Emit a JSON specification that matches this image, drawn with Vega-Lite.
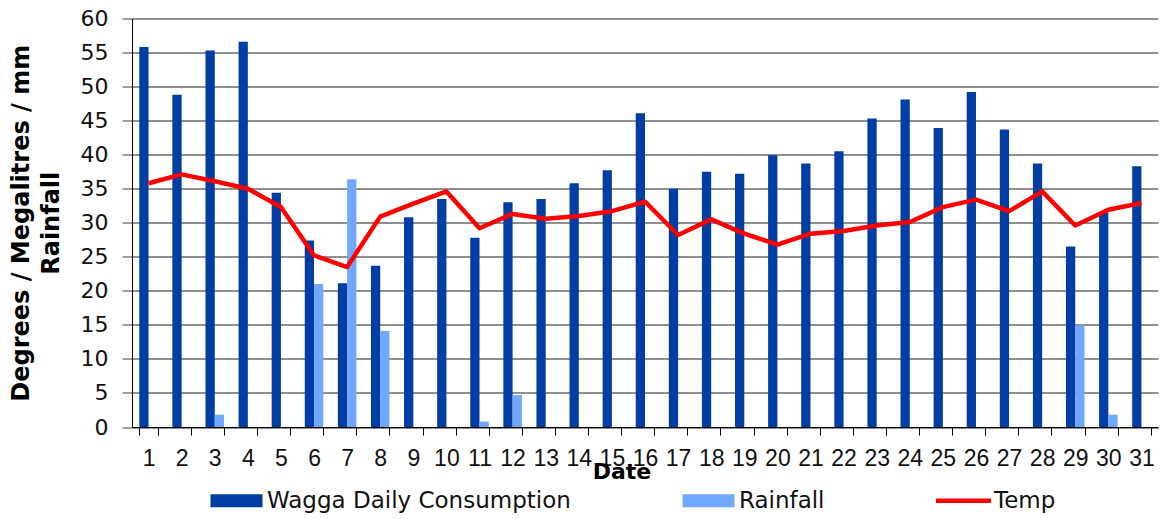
{
  "$schema": "https://vega.github.io/schema/vega-lite/v6.json",
  "autosize": {"type": "none"},
  "padding": {"left": 132, "top": 18.5, "right": 4, "bottom": 92},
  "width": 1026,
  "height": 408.5,
  "background": "white",
  "config": {"view": {"stroke": null}},
  "datasets": {
    "rows": [
      {"date": 1, "series": "Wagga Daily Consumption", "value": 55.8},
      {"date": 2, "series": "Wagga Daily Consumption", "value": 48.8},
      {"date": 3, "series": "Wagga Daily Consumption", "value": 55.3},
      {"date": 4, "series": "Wagga Daily Consumption", "value": 56.6},
      {"date": 5, "series": "Wagga Daily Consumption", "value": 34.4},
      {"date": 6, "series": "Wagga Daily Consumption", "value": 27.4},
      {"date": 7, "series": "Wagga Daily Consumption", "value": 21.1},
      {"date": 8, "series": "Wagga Daily Consumption", "value": 23.7},
      {"date": 9, "series": "Wagga Daily Consumption", "value": 30.8},
      {"date": 10, "series": "Wagga Daily Consumption", "value": 33.5},
      {"date": 11, "series": "Wagga Daily Consumption", "value": 27.8},
      {"date": 12, "series": "Wagga Daily Consumption", "value": 33.0},
      {"date": 13, "series": "Wagga Daily Consumption", "value": 33.5},
      {"date": 14, "series": "Wagga Daily Consumption", "value": 35.8},
      {"date": 15, "series": "Wagga Daily Consumption", "value": 37.7},
      {"date": 16, "series": "Wagga Daily Consumption", "value": 46.1},
      {"date": 17, "series": "Wagga Daily Consumption", "value": 35.0},
      {"date": 18, "series": "Wagga Daily Consumption", "value": 37.5},
      {"date": 19, "series": "Wagga Daily Consumption", "value": 37.2},
      {"date": 20, "series": "Wagga Daily Consumption", "value": 39.9},
      {"date": 21, "series": "Wagga Daily Consumption", "value": 38.7},
      {"date": 22, "series": "Wagga Daily Consumption", "value": 40.5},
      {"date": 23, "series": "Wagga Daily Consumption", "value": 45.3},
      {"date": 24, "series": "Wagga Daily Consumption", "value": 48.1},
      {"date": 25, "series": "Wagga Daily Consumption", "value": 43.9},
      {"date": 26, "series": "Wagga Daily Consumption", "value": 49.2},
      {"date": 27, "series": "Wagga Daily Consumption", "value": 43.7},
      {"date": 28, "series": "Wagga Daily Consumption", "value": 38.7},
      {"date": 29, "series": "Wagga Daily Consumption", "value": 26.5},
      {"date": 30, "series": "Wagga Daily Consumption", "value": 31.5},
      {"date": 31, "series": "Wagga Daily Consumption", "value": 38.3},
      {"date": 3, "series": "Rainfall", "value": 1.8},
      {"date": 6, "series": "Rainfall", "value": 21.0},
      {"date": 7, "series": "Rainfall", "value": 36.4},
      {"date": 8, "series": "Rainfall", "value": 14.1},
      {"date": 11, "series": "Rainfall", "value": 0.8},
      {"date": 12, "series": "Rainfall", "value": 4.7},
      {"date": 29, "series": "Rainfall", "value": 14.9},
      {"date": 30, "series": "Rainfall", "value": 1.8},
      {"date": 1, "series": "Temp", "value": 35.8},
      {"date": 2, "series": "Temp", "value": 37.1},
      {"date": 3, "series": "Temp", "value": 36.1},
      {"date": 4, "series": "Temp", "value": 35.0},
      {"date": 5, "series": "Temp", "value": 32.3},
      {"date": 6, "series": "Temp", "value": 25.2},
      {"date": 7, "series": "Temp", "value": 23.5},
      {"date": 8, "series": "Temp", "value": 30.9},
      {"date": 9, "series": "Temp", "value": 32.8},
      {"date": 10, "series": "Temp", "value": 34.6},
      {"date": 11, "series": "Temp", "value": 29.2},
      {"date": 12, "series": "Temp", "value": 31.3},
      {"date": 13, "series": "Temp", "value": 30.6},
      {"date": 14, "series": "Temp", "value": 31.0},
      {"date": 15, "series": "Temp", "value": 31.7},
      {"date": 16, "series": "Temp", "value": 33.1},
      {"date": 17, "series": "Temp", "value": 28.2},
      {"date": 18, "series": "Temp", "value": 30.5},
      {"date": 19, "series": "Temp", "value": 28.4},
      {"date": 20, "series": "Temp", "value": 26.8},
      {"date": 21, "series": "Temp", "value": 28.4},
      {"date": 22, "series": "Temp", "value": 28.8},
      {"date": 23, "series": "Temp", "value": 29.6},
      {"date": 24, "series": "Temp", "value": 30.1},
      {"date": 25, "series": "Temp", "value": 32.3},
      {"date": 26, "series": "Temp", "value": 33.4},
      {"date": 27, "series": "Temp", "value": 31.7},
      {"date": 28, "series": "Temp", "value": 34.6},
      {"date": 29, "series": "Temp", "value": 29.6},
      {"date": 30, "series": "Temp", "value": 31.9},
      {"date": 31, "series": "Temp", "value": 32.9}
    ]
  },
  "data": {"name": "rows"},
  "encoding": {
    "x": {
      "field": "date",
      "type": "ordinal",
      "scale": {"paddingInner": 0.44, "paddingOuter": 0.22},
      "axis": {
        "title": "Date",
        "labelAngle": 0,
        "labelFont": "Liberation Sans",
        "labelFontSize": 23,
        "labelColor": "#111",
        "labelPadding": 12,
        "labelOverlap": false,
        "labelFlush": false,
        "tickBand": "extent",
        "tickSize": 8,
        "tickColor": "#000",
        "tickWidth": 1,
        "domainColor": "#000",
        "domainWidth": 1,
        "grid": false,
        "titleFont": "DejaVu Sans",
        "titleFontWeight": "bold",
        "titleFontSize": 22,
        "titleColor": "#000",
        "titlePadding": -9,
        "titleX": 489.5
      }
    },
    "y": {
      "field": "value",
      "type": "quantitative",
      "scale": {"domain": [0, 60], "nice": false},
      "axis": {
        "values": [0, 5, 10, 15, 20, 25, 30, 35, 40, 45, 50, 55, 60],
        "title": ["Degrees / Megalitres /  mm", "Rainfall"],
        "titleFont": "DejaVu Sans",
        "titleFontWeight": "bold",
        "titleFontSize": 24,
        "titleLineHeight": 29.5,
        "titleColor": "#000",
        "titlePadding": 17,
        "labelFont": "DejaVu Sans",
        "labelFontSize": 22,
        "labelColor": "#111",
        "labelPadding": 14,
        "tickSize": 10,
        "tickColor": "#6a6a6a",
        "tickWidth": 1.3,
        "grid": true,
        "gridColor": "#6a6a6a",
        "gridWidth": 1.3,
        "domainColor": "#000",
        "domainWidth": 1
      }
    },
    "color": {
      "field": "series",
      "type": "nominal",
      "scale": {
        "domain": ["Wagga Daily Consumption", "Rainfall", "Temp"],
        "range": ["#003DA5", "#70A8FF", "#FF0000"]
      },
      "legend": {
        "title": null,
        "orient": "none",
        "direction": "horizontal",
        "legendX": 93,
        "legendY": 470.5,
        "padding": 0,
        "symbolSize": 100,
        "labelOffset": 19,
        "columnPadding": 111,
        "labelFont": "DejaVu Sans",
        "labelFontSize": 23,
        "labelColor": "#111",
        "labelLimit": 500,
        "encode": {
          "symbols": {
            "update": {
              "shape": {"signal": "datum.value === 'Temp' ? 'M-5.5,-0.45H5.5V0.45H-5.5Z' : 'M-5.2,-1.3H5.2V1.3H-5.2Z'"},
              "fill": {"signal": "scale('color', datum.value)"},
              "stroke": {"value": "transparent"},
              "strokeWidth": {"value": 0},
              "size": {"value": 100},
              "opacity": {"value": 1}
            }
          }
        }
      }
    }
  },
  "layer": [
    {
      "transform": [{"filter": "datum.series !== 'Temp'"}],
      "mark": {"type": "bar"},
      "encoding": {
        "xOffset": {
          "field": "series",
          "type": "nominal",
          "scale": {"domain": ["Wagga Daily Consumption", "Rainfall"], "paddingInner": 0, "paddingOuter": 0}
        }
      }
    },
    {
      "transform": [{"filter": "datum.series === 'Temp'"}],
      "mark": {"type": "line", "strokeWidth": 4.5, "strokeJoin": "round"},
      "encoding": {}
    }
  ]
}
